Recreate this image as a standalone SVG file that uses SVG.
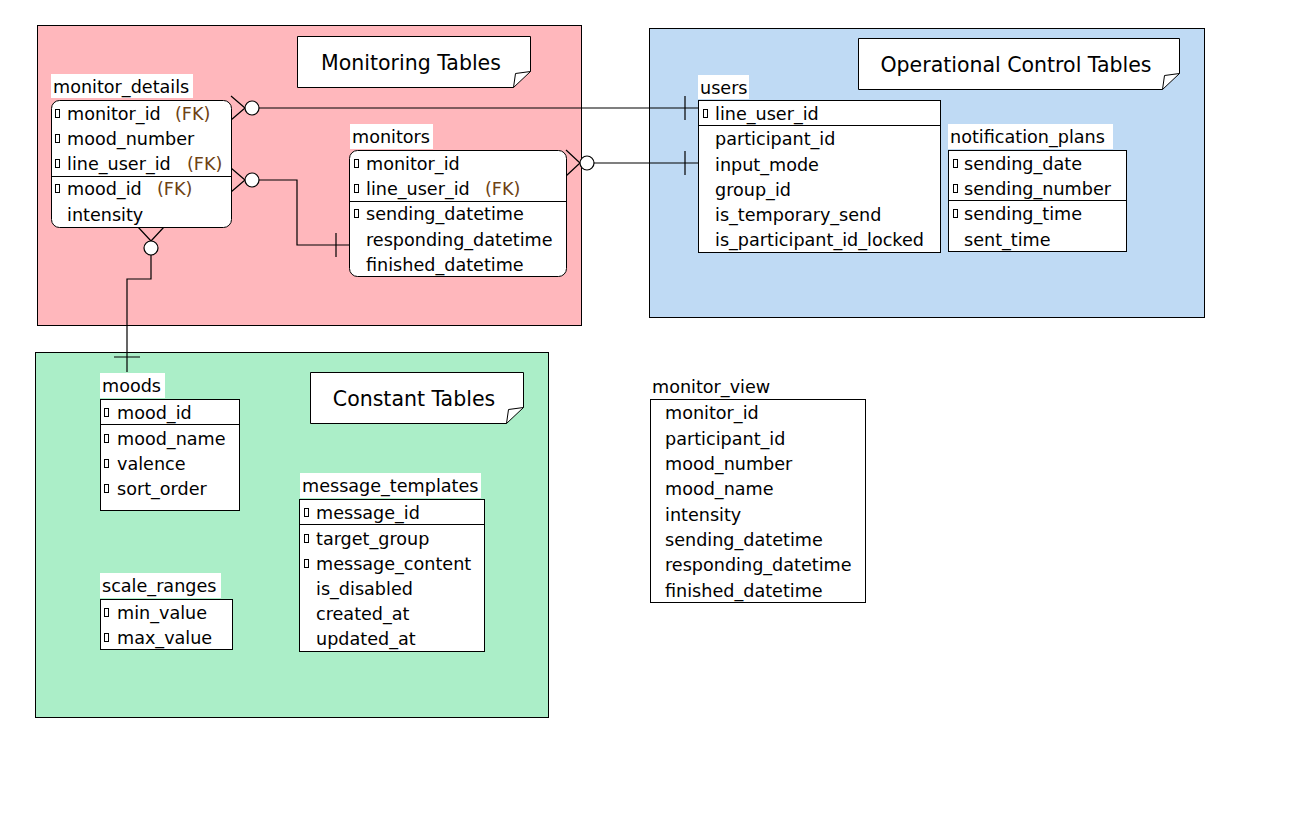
<svg xmlns="http://www.w3.org/2000/svg" width="1303" height="816" viewBox="0 0 1303 816">
<style>
text{font-family:"DejaVu Sans",Verdana,sans-serif;font-size:17.6px;fill:#000}
.note{font-size:20.5px}
.fk{fill:#6e4214}
.box{fill:#fff;stroke:#000;stroke-width:1}
.lbl{fill:#fff}
.div{stroke:#000;stroke-width:1}
.ln{fill:none;stroke:#000;stroke-width:1.2}
.ci{fill:#fff;stroke:#000;stroke-width:1.2}
.grp{stroke:#000;stroke-width:1}
</style>
<defs>
<rect id="key" x="0" y="0" width="4" height="8" fill="#fff" stroke="#000" stroke-width="1"/>
</defs>
<rect width="1303" height="816" fill="#fff"/>
<g id="group-monitoring">
<rect class="grp" x="37.5" y="25.5" width="544" height="300" fill="#ffb7bc"/>
</g>
<g id="group-operational">
<rect class="grp" x="649.5" y="28.5" width="555" height="289" fill="#bfdaf4"/>
</g>
<g id="group-constant">
<rect class="grp" x="35.5" y="352.5" width="513" height="365" fill="#abeec8"/>
</g>
<g id="note-monitoring">
<path d="M297.5 36.5H530.5V71.5L513.5 87.5H297.5Z" fill="#fff" stroke="#000"/>
<path d="M530.5 71.5L515.5 73.5L513.5 87.5" fill="none" stroke="#000"/>
<text class="note" x="411" y="70" text-anchor="middle">Monitoring Tables</text>
</g>
<g id="note-operational">
<path d="M858.5 38.5H1179.5V73.5L1162.5 89.5H858.5Z" fill="#fff" stroke="#000"/>
<path d="M1179.5 73.5L1164.5 75.5L1162.5 89.5" fill="none" stroke="#000"/>
<text class="note" x="1016" y="72" text-anchor="middle">Operational Control Tables</text>
</g>
<g id="note-constant">
<path d="M310.5 372.5H523.5V407.5L506.5 423.5H310.5Z" fill="#fff" stroke="#000"/>
<path d="M523.5 407.5L508.5 409.5L506.5 423.5" fill="none" stroke="#000"/>
<text class="note" x="414" y="406" text-anchor="middle">Constant Tables</text>
</g>
<g id="connectors">
<path class="ln" d="M231 96L245 108M231 120L245 108M259 108H698M685 96V120"/>
<circle class="ci" cx="252" cy="108" r="7"/>
<path class="ln" d="M231 168L245 180M231 192L245 180M259 180H297V245H349M336 233V257"/>
<circle class="ci" cx="252" cy="180" r="7"/>
<path class="ln" d="M566 150L580 163M566 176L580 163M594 163H698M685 151V175"/>
<circle class="ci" cx="587" cy="163" r="7"/>
<path class="ln" d="M138 227L151 241M164 227L151 241M151 255V279H127V372M114 357H140"/>
<circle class="ci" cx="151" cy="248" r="7"/>
</g>
<g id="monitor_details">
<rect class="lbl" x="51" y="74" width="142" height="24"/>
<text x="53" y="93">monitor_details</text>
<rect class="box" x="51.5" y="100.5" width="180" height="127" rx="8"/>
<line class="div" x1="51.5" y1="176.5" x2="231.5" y2="176.5"/>
<use href="#key" x="55.5" y="109.5"/><text x="67" y="120">monitor_id</text><text class="fk" x="175" y="120">(FK)</text>
<use href="#key" x="55.5" y="134.5"/><text x="67" y="145">mood_number</text>
<use href="#key" x="55.5" y="159.5"/><text x="67" y="170">line_user_id</text><text class="fk" x="187" y="170">(FK)</text>
<use href="#key" x="55.5" y="184.5"/><text x="67" y="195">mood_id</text><text class="fk" x="157" y="195">(FK)</text>
<text x="67" y="221">intensity</text>
</g>
<g id="monitors">
<rect class="lbl" x="350" y="124" width="83" height="25"/>
<text x="352" y="143">monitors</text>
<rect class="box" x="349.5" y="150.5" width="217" height="126" rx="8"/>
<line class="div" x1="349.5" y1="201.5" x2="566.5" y2="201.5"/>
<use href="#key" x="354.5" y="159.5"/><text x="366" y="170">monitor_id</text>
<use href="#key" x="354.5" y="184.5"/><text x="366" y="195">line_user_id</text><text class="fk" x="485" y="195">(FK)</text>
<use href="#key" x="354.5" y="209.5"/><text x="366" y="220">sending_datetime</text>
<text x="366" y="246">responding_datetime</text>
<text x="366" y="271">finished_datetime</text>
</g>
<g id="users">
<rect class="lbl" x="698" y="75" width="51" height="24"/>
<text x="700" y="94">users</text>
<rect class="box" x="698.5" y="100.5" width="242" height="152"/>
<line class="div" x1="698.5" y1="125.5" x2="940.5" y2="125.5"/>
<use href="#key" x="703.5" y="109.5"/><text x="715" y="120">line_user_id</text>
<text x="715" y="145">participant_id</text>
<text x="715" y="171">input_mode</text>
<text x="715" y="196">group_id</text>
<text x="715" y="221">is_temporary_send</text>
<text x="715" y="246">is_participant_id_locked</text>
</g>
<g id="notification_plans">
<rect class="lbl" x="948" y="124" width="165" height="25"/>
<text x="950" y="143">notification_plans</text>
<rect class="box" x="948.5" y="150.5" width="178" height="101"/>
<line class="div" x1="948.5" y1="200.5" x2="1126.5" y2="200.5"/>
<use href="#key" x="953.5" y="159.5"/><text x="964" y="170">sending_date</text>
<use href="#key" x="953.5" y="184.5"/><text x="964" y="195">sending_number</text>
<use href="#key" x="953.5" y="209.5"/><text x="964" y="220">sending_time</text>
<text x="964" y="246">sent_time</text>
</g>
<g id="moods">
<rect class="lbl" x="100" y="373" width="65" height="25"/>
<text x="102" y="392">moods</text>
<rect class="box" x="100.5" y="399.5" width="139" height="111"/>
<line class="div" x1="100.5" y1="424.5" x2="239.5" y2="424.5"/>
<use href="#key" x="104.5" y="408.5"/><text x="117" y="419">mood_id</text>
<use href="#key" x="104.5" y="434.5"/><text x="117" y="445">mood_name</text>
<use href="#key" x="104.5" y="459.5"/><text x="117" y="470">valence</text>
<use href="#key" x="104.5" y="484.5"/><text x="117" y="495">sort_order</text>
</g>
<g id="scale_ranges">
<rect class="lbl" x="100" y="573" width="121" height="25"/>
<text x="102" y="592">scale_ranges</text>
<rect class="box" x="100.5" y="599.5" width="132" height="50"/>
<use href="#key" x="104.5" y="608.5"/><text x="117" y="619">min_value</text>
<use href="#key" x="104.5" y="633.5"/><text x="117" y="644">max_value</text>
</g>
<g id="message_templates">
<rect class="lbl" x="300" y="473" width="181" height="25"/>
<text x="302" y="492">message_templates</text>
<rect class="box" x="299.5" y="499.5" width="185" height="152"/>
<line class="div" x1="299.5" y1="524.5" x2="484.5" y2="524.5"/>
<use href="#key" x="304.5" y="508.5"/><text x="316" y="519">message_id</text>
<use href="#key" x="304.5" y="534.5"/><text x="316" y="545">target_group</text>
<use href="#key" x="304.5" y="559.5"/><text x="316" y="570">message_content</text>
<text x="316" y="595">is_disabled</text>
<text x="316" y="620">created_at</text>
<text x="316" y="645">updated_at</text>
</g>
<g id="monitor_view">
<text x="652" y="393">monitor_view</text>
<rect class="box" x="650.5" y="399.5" width="215" height="203"/>
<text x="665" y="419">monitor_id</text>
<text x="665" y="445">participant_id</text>
<text x="665" y="470">mood_number</text>
<text x="665" y="495">mood_name</text>
<text x="665" y="521">intensity</text>
<text x="665" y="546">sending_datetime</text>
<text x="665" y="571">responding_datetime</text>
<text x="665" y="597">finished_datetime</text>
</g>
</svg>
